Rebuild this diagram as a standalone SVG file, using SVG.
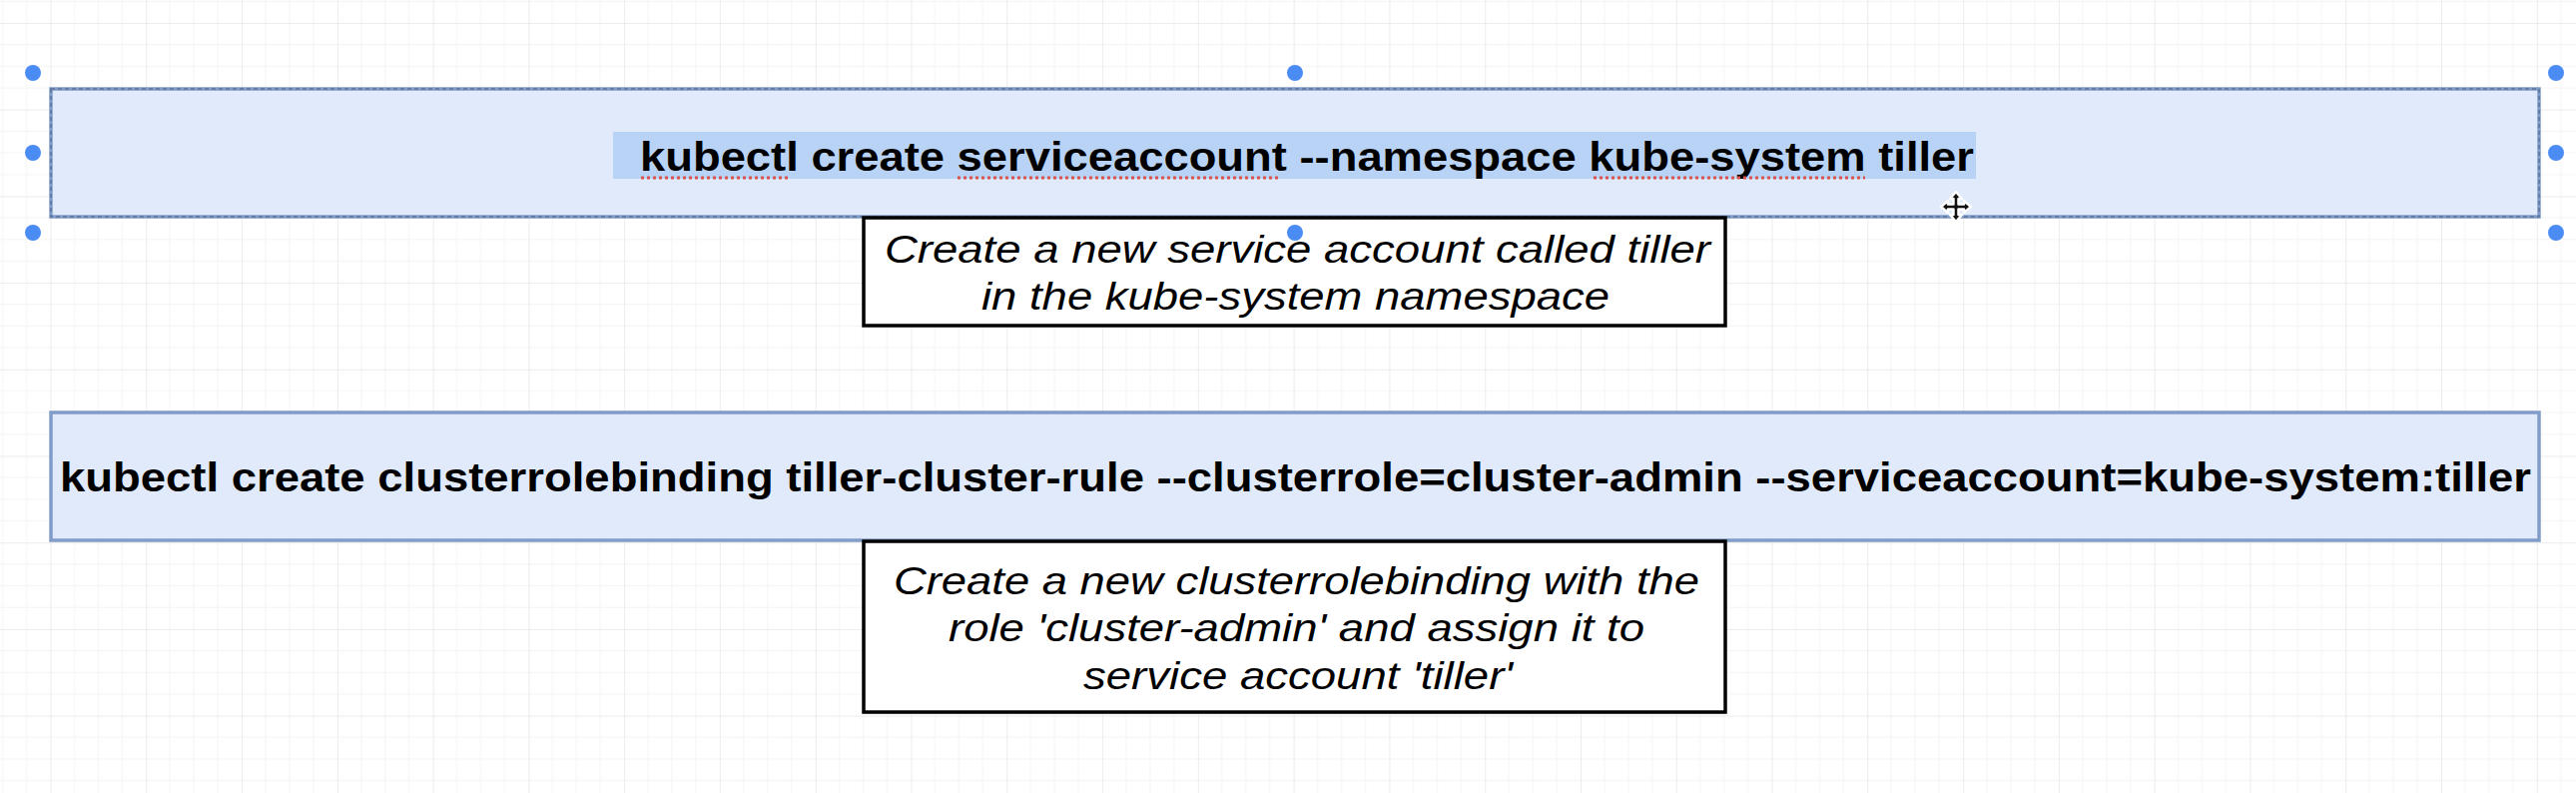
<svg xmlns="http://www.w3.org/2000/svg" width="2580" height="794" viewBox="0 0 2580 794">
  <defs>
    <pattern id="grid" patternUnits="userSpaceOnUse" x="50.5" y="23" width="95.78" height="86.7">
      <path d="M23.94 0V86.7M47.89 0V86.7M71.83 0V86.7M0 21.68H95.78M0 43.35H95.78M0 65.03H95.78" stroke="#f4f4f4" stroke-width="1" fill="none"/>
      <path d="M0 0V86.7M0 0H95.78" stroke="#e6e6e6" stroke-width="1.5" fill="none"/>
    </pattern>
    <style>
      .cmd { fill: #e0eafb; stroke: #819cc8; stroke-width: 3.5; }
      .note { fill: #ffffff; stroke: #000000; stroke-width: 3.5; }
      .bold { font-family: "Liberation Sans", Arial, sans-serif; font-weight: bold; font-size: 41px; fill: #000; }
      .ital { font-family: "Liberation Sans", Arial, sans-serif; font-style: italic; font-size: 39px; fill: #000; }
      .squig { stroke: #d9534f; stroke-width: 3; stroke-dasharray: 3 3; fill: none; }
      .handle { fill: #4b8bf4; }
    </style>
  </defs>
  <rect width="2580" height="794" fill="#ffffff"/>
  <rect width="2580" height="794" fill="url(#grid)"/>

  <g id="connectors"></g>

  <g id="node-cmd1">
    <rect class="cmd" x="51" y="89" width="2492" height="128"/>
    <rect x="51" y="89" width="2492" height="128" fill="none" stroke="#5b7096" stroke-width="1.5" stroke-dasharray="4 3"/>
    <rect x="614" y="132" width="1365" height="47" fill="#b9d3f6"/>
    <text class="bold" x="641" y="171" textLength="1336" lengthAdjust="spacingAndGlyphs">kubectl create serviceaccount --namespace kube-system tiller</text>
    <path class="squig" d="M642 178H791M959 178H1283M1596 178H1868"/>
  </g>

  <g id="node-note1">
    <rect class="note" x="865" y="218" width="863" height="108"/>
    <text class="ital" x="886" y="263" textLength="827" lengthAdjust="spacingAndGlyphs">Create a new service account called tiller</text>
    <text class="ital" x="983" y="310" textLength="629" lengthAdjust="spacingAndGlyphs">in the kube-system namespace</text>
  </g>

  <g id="node-cmd2">
    <rect class="cmd" x="51" y="413" width="2492" height="128"/>
    <text class="bold" x="60" y="492" textLength="2475" lengthAdjust="spacingAndGlyphs">kubectl create clusterrolebinding tiller-cluster-rule --clusterrole=cluster-admin --serviceaccount=kube-system:tiller</text>
  </g>

  <g id="node-note2">
    <rect class="note" x="865" y="542" width="863" height="171"/>
    <text class="ital" x="895" y="595" textLength="807" lengthAdjust="spacingAndGlyphs">Create a new clusterrolebinding with the</text>
    <text class="ital" x="950" y="642" textLength="697" lengthAdjust="spacingAndGlyphs">role 'cluster-admin' and assign it to</text>
    <text class="ital" x="1085" y="690" textLength="430" lengthAdjust="spacingAndGlyphs">service account 'tiller'</text>
  </g>

  <g id="selection-handles">
    <circle class="handle" cx="33" cy="73" r="8"/>
    <circle class="handle" cx="1297" cy="73" r="8"/>
    <circle class="handle" cx="2560" cy="73" r="8"/>
    <circle class="handle" cx="33" cy="153" r="8"/>
    <circle class="handle" cx="2560" cy="153" r="8"/>
    <circle class="handle" cx="33" cy="233" r="8"/>
    <circle class="handle" cx="1297" cy="233" r="8"/>
    <circle class="handle" cx="2560" cy="233" r="8"/>
  </g>

  <g id="cursor" transform="translate(1959 207)">
    <path d="M0 -15 L6 -8 L2.5 -8 L2.5 -2.5 L8 -2.5 L8 -6 L15 0 L8 6 L8 2.5 L2.5 2.5 L2.5 8 L6 8 L0 15 L-6 8 L-2.5 8 L-2.5 2.5 L-8 2.5 L-8 6 L-15 0 L-8 -6 L-8 -2.5 L-2.5 -2.5 L-2.5 -8 L-6 -8 Z" fill="#111" stroke="#fff" stroke-width="2.5" stroke-linejoin="round"/>
  </g>
</svg>
